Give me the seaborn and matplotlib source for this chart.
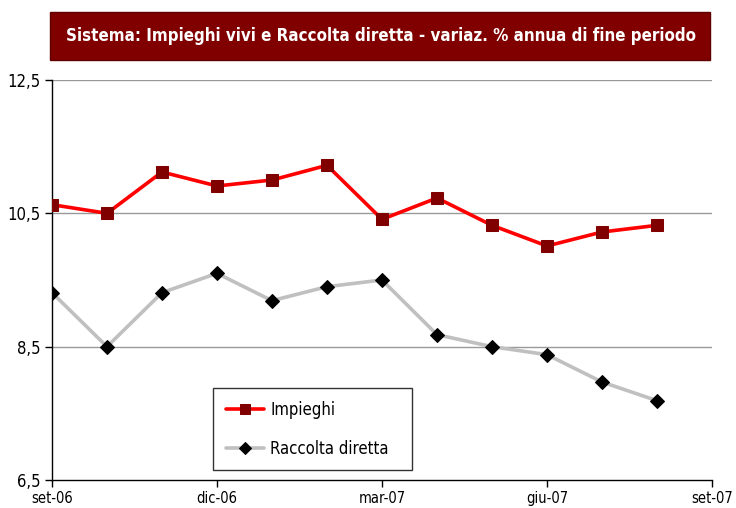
import numpy as np
import pandas as pd
import matplotlib
matplotlib.use("Agg")
import matplotlib.pyplot as plt
import seaborn as sns
from matplotlib.patches import FancyBboxPatch

months = ["set-06", "ott-06", "nov-06", "dic-06", "gen-07", "feb-07", "mar-07",
          "apr-07", "mag-07", "giu-07", "lug-07", "ago-07"]
impieghi = [10.63, 10.50, 11.12, 10.91, 11.00, 11.22, 10.41, 10.73, 10.32, 10.01, 10.22, 10.32]
raccolta = [9.31, 8.50, 9.31, 9.60, 9.19, 9.40, 9.50, 8.68, 8.50, 8.38, 7.97, 7.69]
tick_labels = ["set-06", "dic-06", "mar-07", "giu-07", "set-07"]
y_ticks = [6.5, 8.5, 10.5, 12.5]
title = "Sistema: Impieghi vivi e Raccolta diretta - variaz. % annua di fine periodo"

sns.set_theme(style="white")
plt.rcParams['font.family'] = ['DejaVu Sans']
plt.rcParams['font.stretch'] = 'condensed'
plt.rcParams['text.color'] = 'black'
plt.rcParams['xtick.color'] = 'black'
plt.rcParams['ytick.color'] = 'black'

df = pd.DataFrame({"idx": np.arange(len(months)), "Impieghi": impieghi,
                   "Raccolta diretta": raccolta})

fig = plt.figure(figsize=(7.36, 5.08), dpi=100)
ax = fig.add_axes([52/736, 1-480/508, 660/736, 400/508])

sns.lineplot(data=df, x="idx", y="Impieghi", ax=ax, color="#FF0000", lw=2.6,
             marker="s", markersize=8, markerfacecolor="#800000",
             markeredgecolor="#800000", label="Impieghi", zorder=3)
sns.lineplot(data=df, x="idx", y="Raccolta diretta", ax=ax, color="#C0C0C0", lw=2.6,
             marker="D", markersize=7, markerfacecolor="black",
             markeredgecolor="black", label="Raccolta diretta", zorder=3)

ax.set_xlim(0, 12)
ax.set_ylim(6.5, 12.5)
ax.set_xticks([0, 3, 6, 9, 12])
ax.set_xticklabels(tick_labels, fontsize=10.5, stretch="condensed")
ax.set_yticks(y_ticks)
ax.set_yticklabels([f"{v:.1f}".replace(".", ",") for v in y_ticks], fontsize=12,
                   stretch="condensed")
ax.set_xlabel("")
ax.set_ylabel("")

for v in y_ticks[1:]:
    ax.axhline(v, color="#999999", lw=1, zorder=1)

for s in ["top", "right"]:
    ax.spines[s].set_visible(False)
for s in ["left", "bottom"]:
    ax.spines[s].set_color("black")
    ax.spines[s].set_linewidth(1)
ax.tick_params(axis="both", which="major", direction="out", length=5,
               width=1, color="black", bottom=True, left=True, pad=3)

leg = ax.legend(loc="lower left", bbox_to_anchor=(161/660, 10/400, 199/660, 80/400),
                mode="expand", prop={"size": 12, "stretch": "condensed"},
                frameon=True, fancybox=False,
                edgecolor="black", labelspacing=1.25, handlelength=2.3,
                borderpad=0.75, handletextpad=0.4, borderaxespad=0)
leg.get_frame().set_linewidth(1)
for h in leg.legend_handles:
    h.set_markersize(6.5)

# title box
box = FancyBboxPatch((50/736, 1-60/508), 660/736, 48/508,
                     boxstyle="square,pad=0", transform=fig.transFigure,
                     facecolor="#800000", edgecolor="#600000", lw=1)
fig.patches.append(box)
fig.text(381/736, 1-36/508, title, color="white", fontsize=12.2, fontweight="bold",
         stretch="condensed", ha="center", va="center")

fig.savefig("out.png", dpi=100)
